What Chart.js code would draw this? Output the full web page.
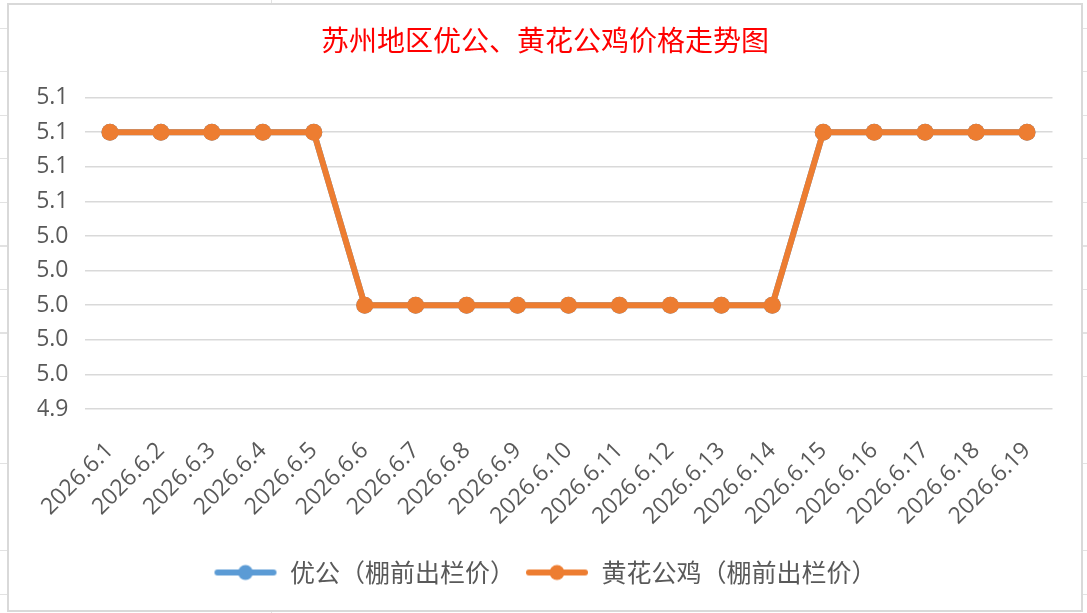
<!DOCTYPE html>
<html>
<head>
<meta charset="utf-8">
<script src="https://cdn.jsdelivr.net/npm/chart.js@4"></script>
<style>
  html, body { margin: 0; padding: 0; width: 1087px; height: 613px; overflow: hidden; background: #fff; }
  /* spreadsheet cells behind the chart */
  body {
    background-image:
      repeating-linear-gradient(to bottom, transparent 0, transparent 28px, #e2e2e2 28px, #e2e2e2 29px, transparent 29px, transparent 43.5px),
      linear-gradient(to right, transparent 271px, #e2e2e2 271px, #e2e2e2 272px, transparent 272px);
  }
  #box {
    position: absolute; left: 7px; top: 3px; width: 1076px; height: 609px;
    box-sizing: border-box; border: 2px solid #d9d9d9; background: #fff;
  }
  #chart { display: block; }
</style>
</head>
<body>
<div id="box"><canvas id="chart" width="1072" height="605"></canvas></div>
<script>
// 日期
const dates = ['2026.6.1', '2026.6.2', '2026.6.3', '2026.6.4', '2026.6.5', '2026.6.6', '2026.6.7',
  '2026.6.8', '2026.6.9', '2026.6.10', '2026.6.11', '2026.6.12', '2026.6.13', '2026.6.14',
  '2026.6.15', '2026.6.16', '2026.6.17', '2026.6.18', '2026.6.19'];
// 优公（棚前出栏价）
const youGong = [5.1, 5.1, 5.1, 5.1, 5.1, 5.0, 5.0, 5.0, 5.0, 5.0, 5.0, 5.0, 5.0, 5.0, 5.1, 5.1, 5.1, 5.1, 5.1];
// 黄花公鸡（棚前出栏价）
const huangHua = [5.1, 5.1, 5.1, 5.1, 5.1, 5.0, 5.0, 5.0, 5.0, 5.0, 5.0, 5.0, 5.0, 5.0, 5.1, 5.1, 5.1, 5.1, 5.1];
// 纵轴刻度
const yTicks = [4.94, 4.96, 4.98, 5.00, 5.02, 5.04, 5.06, 5.08, 5.10, 5.12];

const BLUE = '#5B9BD5';
const ORANGE = '#ED7D31';
const TXT = '#595959';
const NUM_FONT = '"Open Sans", "Noto Sans CJK SC", sans-serif';
const CJK_FONT = '"Noto Sans CJK SC", sans-serif';

// legend symbol: line with a dot
function legendIcon(color) {
  const c = document.createElement('canvas');
  c.width = 64; c.height = 18;
  const g = c.getContext('2d');
  g.strokeStyle = color; g.lineWidth = 6; g.lineCap = 'round';
  g.beginPath(); g.moveTo(4, 9); g.lineTo(60, 9); g.stroke();
  g.fillStyle = color;
  g.beginPath(); g.arc(32, 9, 7.5, 0, Math.PI * 2); g.fill();
  return c;
}

new Chart(document.getElementById('chart'), {
  type: 'line',
  data: {
    labels: dates,
    datasets: [
      { label: '优公（棚前出栏价）', data: youGong, borderColor: BLUE, backgroundColor: BLUE,
        borderWidth: 6, pointRadius: 8.5, pointHoverRadius: 8.5, pointBorderWidth: 0, tension: 0, order: 1 },
      { label: '黄花公鸡（棚前出栏价）', data: huangHua, borderColor: ORANGE, backgroundColor: ORANGE,
        borderWidth: 6, pointRadius: 8.5, pointHoverRadius: 8.5, pointBorderWidth: 0, tension: 0, order: 0 }
    ]
  },
  options: {
    responsive: false,
    animation: false,
    layout: { padding: { left: 28.5, right: 28.5, top: 0, bottom: 15 } },
    plugins: {
      title: {
        display: true,
        text: '苏州地区优公、黄花公鸡价格走势图',
        color: '#FF0000',
        font: { family: CJK_FONT, size: 28, weight: 'normal' },
        padding: { top: 19, bottom: 40 }
      },
      legend: {
        position: 'bottom',
        labels: {
          usePointStyle: true,
          pointStyleWidth: 64,
          padding: 10,
          color: TXT,
          font: { family: CJK_FONT, size: 25 },
          generateLabels: chart => chart.data.datasets.map((ds, i) => ({
            text: ds.label,
            fontColor: TXT,
            pointStyle: legendIcon(ds.borderColor),
            fillStyle: ds.borderColor,
            strokeStyle: ds.borderColor,
            lineWidth: 0,
            hidden: false,
            datasetIndex: i
          }))
        }
      },
      tooltip: { enabled: false }
    },
    scales: {
      x: {
        offset: true,
        grid: { display: false, drawTicks: false },
        border: { display: false },
        ticks: {
          autoSkip: false, maxRotation: 45, minRotation: 45, padding: 28,
          color: TXT, font: { family: NUM_FONT, size: 23 }
        },
        afterFit: s => { s.height = 141; }
      },
      y: {
        min: 4.94,
        max: 5.12,
        afterBuildTicks: s => { s.ticks = yTicks.map(v => ({ value: v })); },
        grid: { color: '#d9d9d9', lineWidth: 1.5, drawTicks: false },
        border: { display: false },
        ticks: {
          padding: 16, color: TXT, font: { family: NUM_FONT, size: 23 },
          callback: v => Number(v).toFixed(1)
        },
        afterFit: s => { s.width = 47; }
      }
    }
  }
});
</script>
</body>
</html>
